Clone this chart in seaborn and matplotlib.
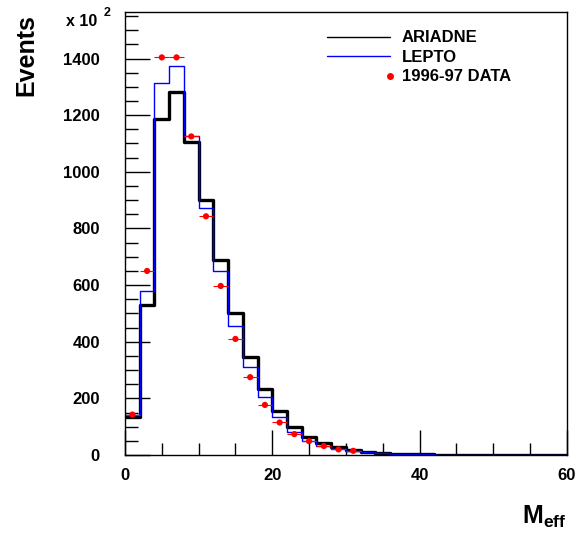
import numpy as np
import pandas as pd
import matplotlib
matplotlib.use("Agg")
import matplotlib.pyplot as plt
from matplotlib.lines import Line2D
from matplotlib.legend_handler import HandlerLine2D
from matplotlib.ticker import MultipleLocator
import seaborn as sns

# ---- data (values in units of 10^2 events) ----
bin_edges = list(range(0, 62, 2))
ariadne = [135, 529, 1187, 1281, 1106, 899, 688, 502, 347, 233, 155, 100, 65, 43, 28,
           18, 12, 8, 5, 3, 2, 1, 1, 0, 0, 0, 0, 0, 0, 0]
lepto = [141, 578, 1313, 1372, 1126, 872, 649, 457, 311, 206, 133, 81, 48, 32, 21,
         14, 10, 6, 4, 3, 2, 1, 1, 0, 0, 0, 0, 0, 0, 0]
data_x = [1, 3, 5, 7, 9, 11, 13, 15, 17, 19, 21, 23, 25, 27, 29, 31]
data_y = [143, 650, 1404, 1404, 1125, 843, 597, 410, 275, 177, 115, 74, 49, 32, 20, 15]
data_xerr = [1] * len(data_x)
legend_labels = ["ARIADNE", "LEPTO", "1996-97 DATA"]

centers = [(a + b) / 2 for a, b in zip(bin_edges[:-1], bin_edges[1:])]
df = pd.DataFrame({"x": centers, "ariadne": ariadne, "lepto": lepto})
dd = pd.DataFrame({"x": data_x, "y": data_y})

sns.set_style("ticks")
plt.rcParams["font.family"] = ["Liberation Sans", "DejaVu Sans"]
plt.rcParams["font.weight"] = "bold"
for k in ["text.color", "axes.labelcolor", "xtick.color", "ytick.color", "axes.edgecolor"]:
    plt.rcParams[k] = "black"
plt.rcParams["mathtext.fontset"] = "custom"
plt.rcParams["mathtext.bf"] = "Liberation Sans:bold"
plt.rcParams["mathtext.rm"] = "Liberation Sans:bold"
plt.rcParams["mathtext.it"] = "Liberation Sans:bold"

fig = plt.figure(figsize=(5.76, 5.36), dpi=100)
ax = fig.add_axes([0.217, 0.151, 0.767, 0.827])

sns.histplot(data=df, x="x", weights="ariadne", bins=bin_edges, element="step",
             fill=False, color="black", linewidth=2.4, ax=ax)
sns.histplot(data=df, x="x", weights="lepto", bins=bin_edges, element="step",
             fill=False, color="#0000ff", linewidth=1.0, ax=ax)
ax.errorbar(data_x, data_y, xerr=data_xerr, fmt="none", ecolor="red", elinewidth=0.8)
sns.scatterplot(data=dd, x="x", y="y", color="red", s=20, edgecolor="none", ax=ax, zorder=5)

ax.set_xlim(0, 60)
ax.set_ylim(0, 1565)
ax.set_xlabel("")
ax.set_ylabel("")

ax.xaxis.set_major_locator(MultipleLocator(20))
ax.xaxis.set_minor_locator(MultipleLocator(5))
ax.yaxis.set_major_locator(MultipleLocator(200))
ax.yaxis.set_minor_locator(MultipleLocator(50))
ax.tick_params(axis="both", which="both", direction="in", top=False, right=False,
               labelsize=12, width=1.0)
ax.tick_params(axis="y", which="major", length=18, pad=18)
ax.tick_params(axis="y", which="minor", length=9)
ax.tick_params(axis="x", which="major", length=18, pad=9)
ax.tick_params(axis="x", which="minor", length=9)
for lab in ax.get_xticklabels() + ax.get_yticklabels():
    lab.set_fontweight("bold")
for sp in ax.spines.values():
    sp.set_visible(True)
    sp.set_linewidth(1.0)

fig.text(0.045, 0.897, "Events", rotation=90, ha="center", va="center",
         fontsize=18, fontweight="bold")
fig.text(0.168, 0.959, "x 10", ha="right", va="center", fontsize=11.5, fontweight="bold")
fig.text(0.18, 0.975, "2", ha="left", va="center", fontsize=9, fontweight="bold")
fig.text(0.983, 0.035, r"$\mathbf{M_{eff}}$", ha="right", va="center", fontsize=18)


class RightMarkerHandler(HandlerLine2D):
    def get_xdata(self, legend, xdescent, ydescent, width, height, fontsize):
        x_end = -xdescent + width
        return [x_end, x_end], [x_end]


handles = [Line2D([0], [0], color="black", lw=1.0),
           Line2D([0], [0], color="#0000ff", lw=1.0),
           Line2D([0], [0], color="red", marker="o", ls="none", markersize=4)]
leg = ax.legend(handles, legend_labels, loc="upper left", bbox_to_anchor=(0.457, 0.958),
                frameon=False, fontsize=12, handlelength=3.8, labelspacing=0.27,
                handletextpad=0.7, borderaxespad=0, borderpad=0,
                handler_map={handles[2]: RightMarkerHandler(numpoints=1)})
for t in leg.get_texts():
    t.set_fontweight("bold")

fig.savefig("out.png", dpi=100)
